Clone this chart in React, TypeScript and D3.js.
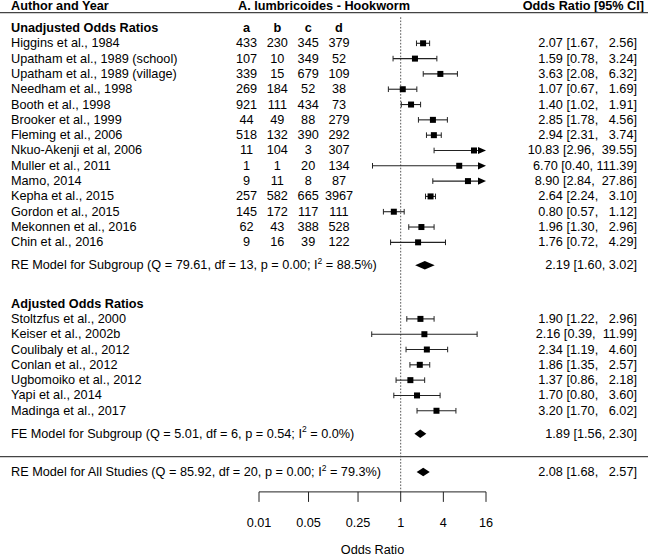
import React from 'react';
import * as d3 from 'd3';

// Unadjusted studies (2x2 counts + odds ratio with 95% CI)
const unadjNames = [
  'Higgins et al., 1984',
  'Upatham et al., 1989 (school)',
  'Upatham et al., 1989 (village)',
  'Needham et al., 1998',
  'Booth et al., 1998',
  'Brooker et al., 1999',
  'Fleming et al., 2006',
  'Nkuo-Akenji et al, 2006',
  'Muller et al., 2011',
  'Mamo, 2014',
  'Kepha et al., 2015',
  'Gordon et al., 2015',
  'Mekonnen et al., 2016',
  'Chin et al., 2016',
];
const colA = [433, 107, 339, 269, 921, 44, 518, 11, 1, 9, 257, 145, 62, 9];
const colB = [230, 10, 15, 184, 111, 49, 132, 104, 1, 11, 582, 172, 43, 16];
const colC = [345, 349, 679, 52, 434, 88, 390, 3, 20, 8, 665, 117, 388, 39];
const colD = [379, 52, 109, 38, 73, 279, 292, 307, 134, 87, 3967, 111, 528, 122];
const unadjOR = [2.07, 1.59, 3.63, 1.07, 1.40, 2.85, 2.94, 10.83, 6.70, 8.90, 2.64, 0.80, 1.96, 1.76];
const unadjLo = [1.67, 0.78, 2.08, 0.67, 1.02, 1.78, 2.31, 2.96, 0.40, 2.84, 2.24, 0.57, 1.30, 0.72];
const unadjHi = [2.56, 3.24, 6.32, 1.69, 1.91, 4.56, 3.74, 39.55, 111.39, 27.86, 3.10, 1.12, 2.96, 4.29];

// Adjusted studies
const adjNames = [
  'Stoltzfus et al., 2000',
  'Keiser et al., 2002b',
  'Coulibaly et al., 2012',
  'Conlan et al., 2012',
  'Ugbomoiko et al., 2012',
  'Yapi et al., 2014',
  'Madinga et al., 2017',
];
const adjOR = [1.90, 2.16, 2.34, 1.86, 1.37, 1.70, 3.20];
const adjLo = [1.22, 0.39, 1.19, 1.35, 0.86, 0.80, 1.70];
const adjHi = [2.96, 11.99, 4.60, 2.57, 2.18, 3.60, 6.02];

// Pooled estimates [est, lo, hi]
const reSubgroup = [2.19, 1.60, 3.02];
const feSubgroup = [1.89, 1.56, 2.30];
const reAll = [2.08, 1.68, 2.57];

const xTicks = [0.01, 0.05, 0.25, 1, 4, 16];
const colHeaders = ['a', 'b', 'c', 'd'];

const W = 648;
const H = 558;
const FONT = 'Liberation Sans, Arial, sans-serif';
const FS = 12.7;
const NBSP = '\u00A0';

const x = d3.scaleLog().domain([0.01, 16]).range([259, 486]);
const y = d3.scaleLinear().domain([0, 28]).range([43.3, 472]);
const colX = d3.scaleLinear().domain([0, 3]).range([246.5, 339]);

// pad the upper CI bound with (non-collapsing) spaces, like metafor does
const pad = (v: number, w: number) => {
  const s = v.toFixed(2);
  return NBSP.repeat(Math.max(0, w - s.length)) + s;
};
const ciLabel = (e: number, l: number, h: number, w = 0) =>
  `${e.toFixed(2)} [${l.toFixed(2)},${NBSP}${pad(h, w)}]`;

const Study = ({ est, lo, hi, row }: { est: number; lo: number; hi: number; row: number }) => {
  const cy = y(row);
  const [xmin, xmax] = x.range();
  const clipHi = hi > 16;
  const clipLo = lo < 0.01;
  const x1 = clipLo ? xmin : x(lo);
  const x2 = clipHi ? xmax : x(hi);
  const s = 6;
  return (
    <g>
      <line x1={x1} x2={clipHi ? x2 - 6 : x2} y1={cy} y2={cy} stroke="#222" strokeWidth={1.1} />
      {!clipLo && <line x1={x1} x2={x1} y1={cy - 2.8} y2={cy + 2.8} stroke="#222" strokeWidth={1} />}
      {clipHi ? (
        <path d={`M${x2 - 8},${cy - 3.6}L${x2},${cy}L${x2 - 8},${cy + 3.6}Z`} fill="#000" />
      ) : (
        <line x1={x2} x2={x2} y1={cy - 2.8} y2={cy + 2.8} stroke="#222" strokeWidth={1} />
      )}
      <rect x={x(est) - s / 2} y={cy - s / 2} width={s} height={s} fill="#000" />
    </g>
  );
};

const Diamond = ({ vals, row }: { vals: number[]; row: number }) => {
  const cy = y(row);
  const [e, l, h] = vals;
  const hh = 4.3;
  return <path d={`M${x(l)},${cy}L${x(e)},${cy - hh}L${x(h)},${cy}L${x(e)},${cy + hh}Z`} fill="#000" />;
};

const ModelLabel = ({ row, pre, post }: { row: number; pre: string; post: string }) => (
  <text x={11} y={y(row)} dominantBaseline="central" fontSize={FS}>
    {pre}
    <tspan dy={-4.5} fontSize={8.5}>2</tspan>
    <tspan dy={4.5}>{post}</tspan>
  </text>
);

const App: React.FC = () => {
  const rowTxt = { dominantBaseline: 'central' as const, fontSize: FS };
  const unadjRows = unadjNames.map((_, i) => i);
  const adjRows = adjNames.map((_, i) => 18 + i);

  return (
    <svg
      width={W}
      height={H}
      style={{ position: 'absolute', left: 0, top: 0, background: '#fff', fontFamily: FONT }}
    >
      {/* headers */}
      <text x={11} y={y(-2.45)} {...rowTxt} fontWeight="bold">Author and Year</text>
      <text x={W / 2} y={y(-2.45)} {...rowTxt} fontWeight="bold" textAnchor="middle">A. lumbricoides - Hookworm</text>
      <text x={644} y={y(-2.45)} {...rowTxt} fontWeight="bold" textAnchor="end">Odds Ratio [95% CI]</text>
      <line x1={0} x2={W} y1={y(-2)} y2={y(-2)} stroke="#444" strokeWidth={1.3} />

      {/* reference line at OR = 1 */}
      <line x1={x(1)} x2={x(1)} y1={y(-1.7)} y2={y(29.3)} stroke="#555" strokeWidth={1} strokeDasharray="1.6,1.6" />

      <text x={11} y={y(-1)} {...rowTxt} fontWeight="bold">Unadjusted Odds Ratios</text>
      {colHeaders.map((h, j) => (
        <text key={h} x={colX(j)} y={y(-1)} {...rowTxt} fontWeight="bold" textAnchor="middle">{h}</text>
      ))}

      {unadjRows.map((r, i) => (
        <g key={unadjNames[i]}>
          <text x={11} y={y(r)} {...rowTxt}>{unadjNames[i]}</text>
          {[colA[i], colB[i], colC[i], colD[i]].map((v, j) => (
            <text key={j} x={colX(j)} y={y(r)} {...rowTxt} textAnchor="middle">{v}</text>
          ))}
          <Study est={unadjOR[i]} lo={unadjLo[i]} hi={unadjHi[i]} row={r} />
          <text x={637} y={y(r)} {...rowTxt} textAnchor="end">{ciLabel(unadjOR[i], unadjLo[i], unadjHi[i], 6)}</text>
        </g>
      ))}

      <ModelLabel row={14.5} pre="RE Model for Subgroup (Q = 79.61, df = 13, p = 0.00; I" post=" = 88.5%)" />
      <Diamond vals={reSubgroup} row={14.5} />
      <text x={637} y={y(14.5)} {...rowTxt} textAnchor="end">{ciLabel(reSubgroup[0], reSubgroup[1], reSubgroup[2])}</text>

      <text x={11} y={y(17)} {...rowTxt} fontWeight="bold">Adjusted Odds Ratios</text>
      {adjRows.map((r, i) => (
        <g key={adjNames[i]}>
          <text x={11} y={y(r)} {...rowTxt}>{adjNames[i]}</text>
          <Study est={adjOR[i]} lo={adjLo[i]} hi={adjHi[i]} row={r} />
          <text x={637} y={y(r)} {...rowTxt} textAnchor="end">{ciLabel(adjOR[i], adjLo[i], adjHi[i], 6)}</text>
        </g>
      ))}

      <ModelLabel row={25.5} pre="FE Model for Subgroup (Q = 5.01, df = 6, p = 0.54; I" post=" = 0.0%)" />
      <Diamond vals={feSubgroup} row={25.5} />
      <text x={637} y={y(25.5)} {...rowTxt} textAnchor="end">{ciLabel(feSubgroup[0], feSubgroup[1], feSubgroup[2])}</text>

      <line x1={0} x2={W} y1={y(27)} y2={y(27)} stroke="#444" strokeWidth={1.3} />

      <ModelLabel row={28} pre="RE Model for All Studies (Q = 85.92, df = 20, p = 0.00; I" post=" = 79.3%)" />
      <Diamond vals={reAll} row={28} />
      <text x={637} y={y(28)} {...rowTxt} textAnchor="end">{ciLabel(reAll[0], reAll[1], reAll[2], 6)}</text>

      {/* x axis */}
      <g>
        <line x1={x(0.01)} x2={x(16)} y1={y(29.3)} y2={y(29.3)} stroke="#222" strokeWidth={1} />
        {xTicks.map(t => (
          <g key={t}>
            <line x1={x(t)} x2={x(t)} y1={y(29.3)} y2={y(29.3) + 10} stroke="#222" strokeWidth={1} />
            <text x={x(t)} y={523} {...rowTxt} textAnchor="middle">{String(t)}</text>
          </g>
        ))}
        <text x={(x(0.01) + x(16)) / 2} y={550} {...rowTxt} textAnchor="middle">Odds Ratio</text>
      </g>
    </svg>
  );
};

export default App;
